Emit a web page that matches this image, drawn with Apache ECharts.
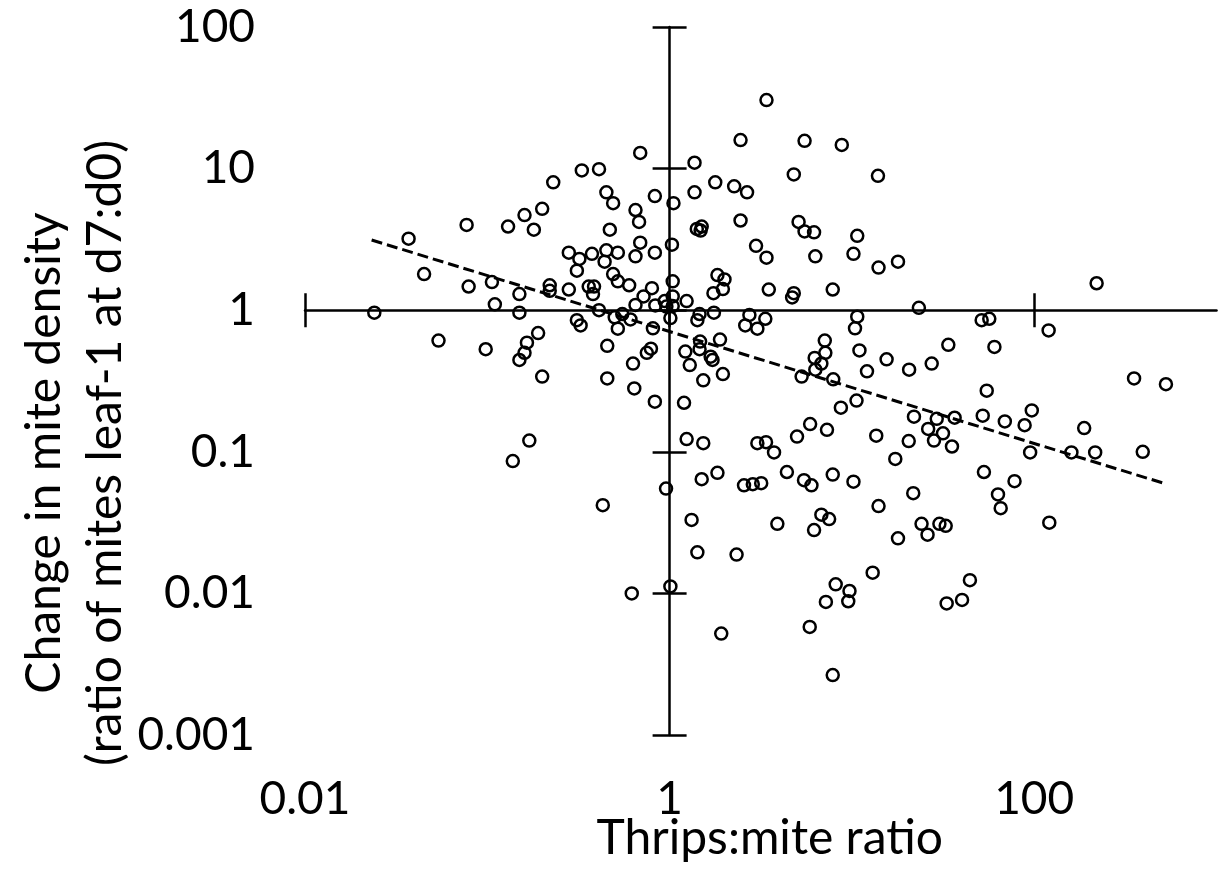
<!DOCTYPE html>
<html>
<head>
<meta charset="utf-8">
<script src="https://cdn.jsdelivr.net/npm/echarts@6/dist/echarts.min.js"></script>
<style>
html, body { margin: 0; padding: 0; background: #fff; }
#chart { width: 1225px; height: 870px; }
</style>
</head>
<body>
<div id="chart"></div>
<script>
// thrips:mite ratio (x) and change in mite density d7:d0 (y)
var thripsMiteRatio = [
    0.69, 0.33, 0.41, 0.23, 0.45, 0.49, 0.83, 1.05, 0.20, 0.16,
    0.077, 0.13, 0.18, 0.65, 0.68, 0.47, 0.037, 0.69, 1.03, 0.28,
    0.32, 0.375, 0.45, 0.52, 0.65, 0.83, 0.44, 0.31, 0.045, 0.49,
    0.52, 0.60, 1.04, 0.079, 0.106, 0.22, 0.22, 0.28, 0.36, 0.385,
    0.38, 0.15, 0.80, 0.72, 1.04, 0.94, 0.11, 0.65, 0.835, 0.96,
    1.04, 0.024, 0.15, 0.41, 0.50, 0.55, 0.61, 1.01, 0.31, 0.325,
    0.52, 0.81, 0.19, 0.054, 0.098, 0.165, 0.16, 0.15, 0.455, 0.79,
    0.75, 0.63, 0.20, 0.455, 0.64, 0.83, 0.17, 0.138, 0.956, 0.43,
    0.62, 1.01, 3.4, 2.45, 5.5, 8.8, 1.37, 4.8, 13.9, 1.78,
    2.26, 2.66, 1.37, 2.45, 5.1, 1.41, 1.5, 1.48, 5.5, 6.2,
    10.7, 2.98, 3.4, 6.3, 10.2, 14.0, 17.9, 1.83, 2.0, 1.96,
    1.74, 3.5, 4.8, 4.7, 7.85, 1.24, 23.3, 1.46, 1.75, 2.74,
    3.35, 10.7, 51.5, 56.7, 1.42, 2.6, 3.03, 10.4, 60.5, 33.8,
    7.1, 6.25, 7.15, 6.8, 6.3, 5.3, 7.9, 11.0, 15.5, 12.1,
    20.6, 27.4, 54.9, 69, 52.2, 36.6, 29.2, 21.9, 26.2, 31.6,
    28.2, 35.4, 20.5, 13.6, 17.3, 10.6, 8.7, 5.9, 7.3, 5.0,
    3.03, 3.38, 3.74, 1.47, 1.89, 1.22, 1.46, 1.68, 1.72, 1.29,
    1.96, 1.53, 1.2, 1.24, 1.53, 1.5, 1.83, 2.56, 2.86, 3.18,
    4.4, 5.46, 6.0, 7.85, 10.2, 21.7, 14.0, 53, 78, 63.3,
    65.5, 1.32, 3.9, 6.8, 7.5, 6.2, 24.1, 30.2, 32.7, 17.9,
    26.0, 1.42, 2.33, 8.15, 9.7, 9.55, 7.2, 13.0, 44.4, 40.2,
    33.1, 1.92, 5.87, 7.85, 220, 120, 353, 528, 97, 88.6,
    188, 95, 160, 216, 394, 121
];
var miteDensityChange = [
    12.9, 9.7, 9.9, 8.0, 6.8, 5.7, 6.4, 5.7, 5.2, 4.7,
    4.0, 3.9, 3.7, 5.1, 4.2, 3.7, 3.2, 3.0, 2.9, 2.55,
    2.3, 2.5, 2.65, 2.55, 2.4, 2.55, 2.2, 1.9, 1.8, 1.8,
    1.6, 1.5, 1.6, 1.47, 1.58, 1.5, 1.37, 1.4, 1.47, 1.47,
    1.3, 1.3, 1.43, 1.25, 1.25, 1.16, 1.1, 1.09, 1.08, 1.06,
    1.07, 0.96, 0.96, 1.0, 0.89, 0.94, 0.86, 0.88, 0.85, 0.78,
    0.74, 0.745, 0.69, 0.61, 0.53, 0.59, 0.50, 0.445, 0.56, 0.535,
    0.50, 0.42, 0.34, 0.33, 0.28, 0.226, 0.12, 0.086, 0.055, 0.042,
    0.0100, 0.0112, 30.5, 15.9, 15.7, 14.7, 11.0, 9.1, 8.9, 8.0,
    7.5, 6.8, 6.8, 4.3, 4.2, 3.75, 3.9, 3.65, 3.6, 3.55,
    3.35, 2.85, 2.35, 2.4, 2.5, 2.0, 2.2, 1.77, 1.65, 1.41,
    1.32, 1.4, 1.32, 1.23, 1.4, 1.16, 1.04, 0.94, 0.96, 0.925,
    0.87, 0.9, 0.85, 0.87, 0.85, 0.78, 0.74, 0.745, 0.55, 0.57,
    0.61, 0.46, 0.50, 0.42, 0.38, 0.34, 0.325, 0.52, 0.45, 0.37,
    0.38, 0.42, 0.27, 0.164, 0.18, 0.174, 0.171, 0.177, 0.145, 0.135,
    0.12, 0.109, 0.119, 0.13, 0.089, 0.23, 0.205, 0.157, 0.143, 0.128,
    0.115, 0.117, 0.099, 0.6, 0.62, 0.51, 0.53, 0.47, 0.445, 0.41,
    0.354, 0.32, 0.222, 0.123, 0.115, 0.064, 0.071, 0.058, 0.059, 0.06,
    0.072, 0.063, 0.058, 0.069, 0.0615, 0.051, 0.0414, 0.072, 0.062, 0.05,
    0.04, 0.033, 0.031, 0.036, 0.0335, 0.028, 0.031, 0.031, 0.030, 0.0245,
    0.026, 0.0195, 0.0188, 0.0116, 0.0104, 0.0088, 0.0087, 0.014, 0.0124, 0.009,
    0.0085, 0.0052, 0.0058, 0.00265, 1.55, 0.72, 0.33, 0.30, 0.196, 0.154,
    0.147, 0.099, 0.099, 0.099, 0.1, 0.0316
];
// fitted trend line end points
var trendX = [0.0232, 528];
var trendY = [3.13, 0.0593];

var xTickValues = [0.01, 1, 100];
var xTickLabels = ['0.01', '1', '100'];
var yTickLabels = ['0.001', '0.01', '0.1', '1', '10', '100'];

var FONT = 'Lato';
var black = '#000';

var points = thripsMiteRatio.map(function (x, i) { return [x, miteDensityChange[i]]; });
var trend = trendX.map(function (x, i) { return [x, trendY[i]]; });

function xLabel(v) {
    var e = Math.round(Math.log10(v));
    for (var i = 0; i < xTickValues.length; i++) {
        if (Math.round(Math.log10(xTickValues[i])) === e) return xTickLabels[i];
    }
    return '';
}
function yLabel(v) {
    return yTickLabels[Math.round(Math.log10(v)) + 3] || '';
}

var chart = echarts.init(document.getElementById('chart'), null, { renderer: 'canvas' });
var axisStyle = { color: black, width: 2.5 };

// axes cross at x=1, y=1: offsets move the line axes into the middle of the grid
var xCrossOffset = -424.8;
var yCrossOffset = -364.6;

var option = {
    animation: false,
    backgroundColor: '#fff',
    grid: { left: 305, top: 27, width: 911.5, height: 708, outerBoundsMode: 'none' },
    xAxis: [
        {
            type: 'log', logBase: 10, min: 0.01, max: 1000, interval: 2,
            position: 'bottom',
            axisLine: { show: false, onZero: false },
            axisTick: { show: false },
            splitLine: { show: false },
            axisLabel: { margin: 41, fontSize: 46, fontFamily: FONT, color: black, formatter: xLabel },
            name: 'Thrips:mite ratio',
            nameLocation: 'middle',
            nameGap: 80,
            nameMoveOverlap: false,
            nameTextStyle: { fontSize: 48, fontFamily: FONT, color: black, padding: [0, 0, 0, 18] }
        },
        {
            type: 'log', logBase: 10, min: 0.01, max: 1000, interval: 2,
            position: 'bottom', offset: xCrossOffset,
            axisLine: { show: true, onZero: false, lineStyle: axisStyle },
            axisTick: { show: true, inside: false, length: 17, customValues: xTickValues, lineStyle: axisStyle },
            axisLabel: { show: false },
            splitLine: { show: false }
        },
        {
            type: 'log', logBase: 10, min: 0.01, max: 1000, interval: 2,
            position: 'bottom', offset: xCrossOffset,
            axisLine: { show: false, onZero: false },
            axisTick: { show: true, inside: true, length: 17, customValues: xTickValues, lineStyle: axisStyle },
            axisLabel: { show: false },
            splitLine: { show: false }
        }
    ],
    yAxis: [
        {
            type: 'log', logBase: 10, min: 0.001, max: 100, interval: 1,
            position: 'left',
            axisLine: { show: false, onZero: false },
            axisTick: { show: false },
            splitLine: { show: false },
            axisLabel: { margin: 50, fontSize: 46, fontFamily: FONT, color: black, formatter: yLabel }
        },
        {
            type: 'log', logBase: 10, min: 0.001, max: 100, interval: 1,
            position: 'left', offset: yCrossOffset,
            axisLine: { show: true, onZero: false, lineStyle: axisStyle },
            axisTick: { show: true, inside: false, length: 17, lineStyle: axisStyle },
            axisLabel: { show: false },
            splitLine: { show: false }
        },
        {
            type: 'log', logBase: 10, min: 0.001, max: 100, interval: 1,
            position: 'left', offset: yCrossOffset,
            axisLine: { show: false, onZero: false },
            axisTick: { show: true, inside: true, length: 17, lineStyle: axisStyle },
            axisLabel: { show: false },
            splitLine: { show: false }
        }
    ],
    graphic: [
        {
            type: 'text',
            x: 75.5,
            y: 453,
            rotation: Math.PI / 2,
            style: {
                text: 'Change in mite density\n(ratio of mites leaf-1 at d7:d0)',
                align: 'center',
                verticalAlign: 'middle',
                lineHeight: 61,
                font: '48px ' + FONT,
                fill: black
            }
        }
    ],
    series: [
        {
            name: 'Trend',
            type: 'line',
            data: trend,
            symbol: 'none',
            silent: true,
            lineStyle: { color: black, width: 3, type: [11, 5] },
            z: 3
        },
        {
            name: 'Samples',
            type: 'scatter',
            data: points,
            symbol: 'circle',
            symbolSize: 12,
            itemStyle: { color: 'rgba(0,0,0,0)', borderColor: black, borderWidth: 2.5, opacity: 1 },
            z: 4
        }
    ]
};

chart.setOption(option);

window.addEventListener('resize', function () {
    chart.resize();
});
</script>
</body>
</html>
